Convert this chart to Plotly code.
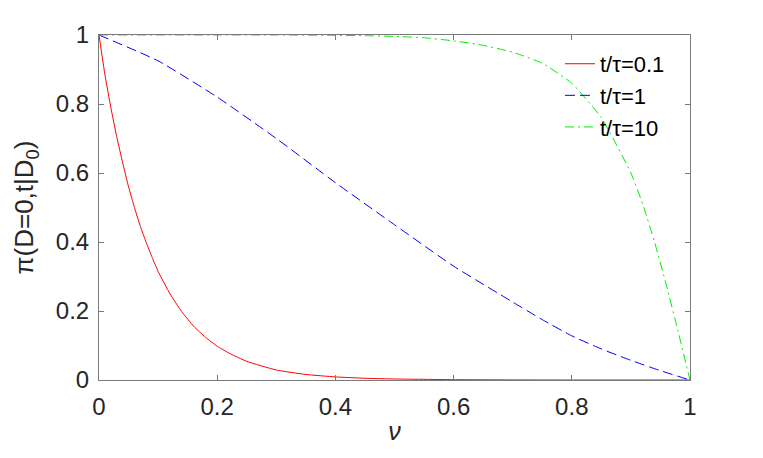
import plotly.graph_objects as go

nu_red = [0, 0.01, 0.02, 0.03, 0.04, 0.05, 0.06, 0.07, 0.08, 0.09, 0.10, 0.12, 0.14, 0.16, 0.18, 0.20, 0.22, 0.25, 0.30, 0.35, 0.40, 0.45, 0.50, 0.60, 0.70, 0.80, 0.90, 1.0]
val_red = [1.0, 0.885, 0.79, 0.705, 0.63, 0.56, 0.50, 0.445, 0.398, 0.355, 0.315, 0.25, 0.198, 0.156, 0.124, 0.098, 0.078, 0.054, 0.029, 0.016, 0.009, 0.005, 0.003, 0.001, 0.0003, 0.0, 0.0, 0.0]

nu_blue = [0, 0.1, 0.2, 0.3, 0.4, 0.5, 0.6, 0.7, 0.75, 0.8, 0.85, 0.9, 0.95, 1.0]
val_blue = [1.0, 0.925, 0.82, 0.70, 0.572, 0.45, 0.33, 0.226, 0.175, 0.128, 0.09, 0.057, 0.027, 0.0]

nu_green = [0, 0.1, 0.2, 0.3, 0.4, 0.45, 0.5, 0.55, 0.6, 0.65, 0.7, 0.75, 0.8, 0.85, 0.9, 0.92, 0.94, 0.96, 0.98, 1.0]
val_green = [1.0, 1.0, 1.0, 1.0, 0.999, 0.998, 0.996, 0.992, 0.983, 0.97, 0.95, 0.918, 0.86, 0.76, 0.60, 0.51, 0.40, 0.275, 0.14, 0.0]

labels = ["t/τ=0.1", "t/τ=1", "t/τ=10"]
tick_vals = [0, 0.2, 0.4, 0.6, 0.8, 1]
tick_text = ["0", "0.2", "0.4", "0.6", "0.8", "1"]

FONT = "Liberation Sans, Arial, Helvetica, sans-serif"
AX = "#7a7a7a"
TXT = "#262626"

fig = go.Figure()
fig.add_trace(go.Scatter(x=nu_red, y=val_red, mode="lines", name=labels[0],
                         line=dict(color="#ff0000", width=1, shape="spline", smoothing=0.4)))
fig.add_trace(go.Scatter(x=nu_blue, y=val_blue, mode="lines", name=labels[1],
                         line=dict(color="#0000ff", width=1, dash="10px,5px", shape="spline", smoothing=0.5)))
fig.add_trace(go.Scatter(x=nu_green, y=val_green, mode="lines", name=labels[2],
                         line=dict(color="#00ee00", width=1, dash="9px,4px,2px,4px", shape="spline", smoothing=0.5)))

axis_common = dict(range=[0, 1], tickvals=tick_vals, ticktext=tick_text,
                   showgrid=False, zeroline=False, showline=True, linecolor=AX, linewidth=1,
                   mirror="ticks", ticks="inside", ticklen=5, tickcolor=AX, tickwidth=1,
                   tickfont=dict(family=FONT, size=24, color=TXT))

fig.update_xaxes(**axis_common, ticklabelstandoff=5,
                 title=dict(text="<i>ν</i>", font=dict(family=FONT, size=25, color=TXT), standoff=3))
fig.update_yaxes(**axis_common, ticklabelstandoff=4,
                 title=dict(text="π(D=0,t|D<sub>0</sub>)", font=dict(family=FONT, size=26, color=TXT), standoff=14))

fig.update_layout(
    width=755, height=450,
    margin=dict(l=91, r=73, t=27, b=78),
    paper_bgcolor="white", plot_bgcolor="white",
    font=dict(family=FONT, color=TXT),
    legend=dict(x=0.78, y=0.977, xanchor="left", yanchor="top",
                bgcolor="rgba(0,0,0,0)", borderwidth=0,
                font=dict(family=FONT, size=22, color="#000000"),
                itemwidth=30),
)

fig.write_html("out.html")
